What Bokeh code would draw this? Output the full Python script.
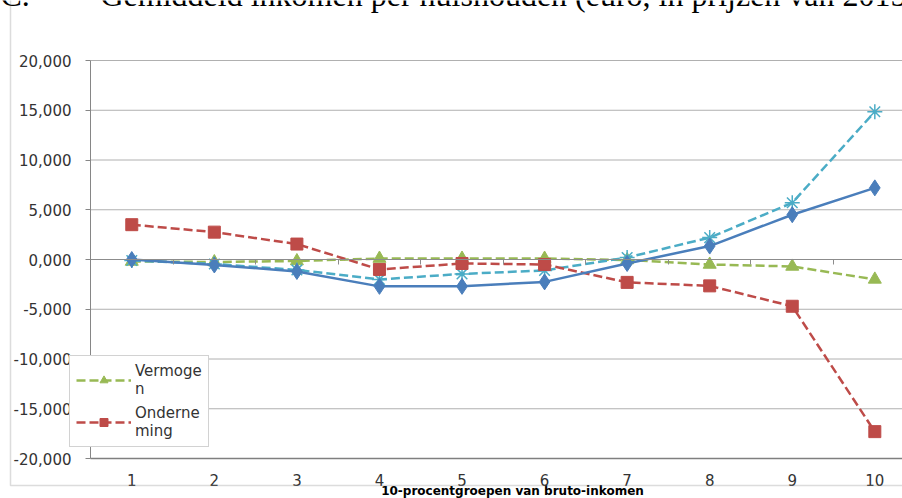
from bokeh.plotting import figure
from bokeh.models import (FixedTicker, Legend, LegendItem, Label, LinearAxis,
                          BoxAnnotation, Range1d)
from bokeh.embed import file_html
from bokeh.resources import INLINE

# 10-procentgroepen van bruto-inkomen
groepen = [1, 2, 3, 4, 5, 6, 7, 8, 9, 10]

# Mutatie gemiddeld inkomen per huishouden (euro)
totaal = [0, -550, -1200, -2700, -2700, -2250, -400, 1350, 4500, 7200]
arbeid = [-100, -450, -1050, -2000, -1450, -1100, 200, 2200, 5700, 14850]
vermogen = [-200, -250, -150, 100, 100, 100, -50, -500, -700, -2000]
onderneming = [3500, 2750, 1550, -1000, -400, -500, -2300, -2650, -4700, -17300]

y_ticks = [-20000, -15000, -10000, -5000, 0, 5000, 10000, 15000, 20000]
y_tick_labels = ["-20,000", "-15,000", "-10,000", "-5,000", "0,000",
                 "5,000", "10,000", "15,000", "20,000"]

titel_nr = "C."
titel = "Gemiddeld inkomen per huishouden (euro, in prijzen van 2015)"
x_titel = "10-procentgroepen van bruto-inkomen"

FONT = "DejaVu Sans"
W, H = 902, 498
# plotgebied in pixels: links 90, boven 60, onder 458, categoriebreedte 82.56
PLOT_L, PLOT_T, PLOT_B = 90, 60, 458
CAT_PX = 82.56

x_start = groepen[0] - 0.5
x_end = groepen[-1] + 0.5
px_per_y = (PLOT_B - PLOT_T) / (y_ticks[-1] - y_ticks[0])

x_range = Range1d(x_start - PLOT_L / CAT_PX, x_start + (W - PLOT_L) / CAT_PX)
y_range = Range1d(y_ticks[0] - (H - PLOT_B) / px_per_y, y_ticks[-1] + PLOT_T / px_per_y)

p = figure(width=W, height=H, output_backend="svg", toolbar_location=None,
           x_range=x_range, y_range=y_range, min_border=0,
           x_axis_type=None, y_axis_type=None)
p.outline_line_color = None
p.background_fill_color = "white"
p.border_fill_color = "white"
p.grid.visible = False

# horizontale rasterlijnen over het plotgebied; de onderste is de donkere onderrand
p.segment(x0=[x_start] * len(y_ticks), y0=y_ticks, x1=[x_end] * len(y_ticks), y1=y_ticks,
          line_color=["#7f7f7f" if t == y_ticks[0] else "#b0b0b0" for t in y_ticks],
          line_width=[1.5 if t == y_ticks[0] else 1 for t in y_ticks])

# y-as
yaxis = LinearAxis(fixed_location=x_start, bounds=(y_ticks[0], y_ticks[-1]),
                   ticker=FixedTicker(ticks=y_ticks),
                   major_label_overrides={t: l for t, l in zip(y_ticks, y_tick_labels)})
yaxis.axis_line_color = "#868686"
yaxis.major_tick_line_color = "#868686"
yaxis.major_tick_out = 5
yaxis.major_tick_in = 0
yaxis.minor_tick_line_color = None
yaxis.major_label_standoff = 14
yaxis.major_label_text_font = FONT
yaxis.major_label_text_font_size = "15px"
yaxis.major_label_text_color = "#333333"
p.add_layout(yaxis, "left")

# groepnummers en astitel onder het plotgebied
xaxis = LinearAxis(fixed_location=y_ticks[0], bounds=(x_start + 0.39, x_end),
                   ticker=FixedTicker(ticks=groepen), axis_label=x_titel)
xaxis.axis_line_color = None
xaxis.major_tick_line_color = None
xaxis.minor_tick_line_color = None
xaxis.major_label_standoff = 9
xaxis.major_label_text_font = FONT
xaxis.major_label_text_font_size = "15px"
xaxis.major_label_text_color = "#333333"
xaxis.axis_label_text_font = FONT
xaxis.axis_label_text_font_size = "12px"
xaxis.axis_label_text_font_style = "bold"
xaxis.axis_label_text_color = "black"
xaxis.axis_label_standoff = -5
p.add_layout(xaxis, "below")

# categorie-as op de nullijn, met streepjes tussen de groepen
grenzen = [g + 0.5 for g in groepen[:-1]]
nulas = LinearAxis(fixed_location=0, bounds=(x_start, x_end),
                   ticker=FixedTicker(ticks=grenzen),
                   major_label_overrides={g: "" for g in grenzen})
nulas.axis_line_color = "#8c8c8c"
nulas.major_tick_line_color = "#8c8c8c"
nulas.major_tick_out = 5
nulas.major_tick_in = 0
nulas.minor_tick_line_color = None
p.add_layout(nulas, "below")

DASH = "9 4"
gl = p.line(groepen, vermogen, line_color="#98B954", line_width=2.5, line_dash=DASH)
gs = p.scatter(groepen, vermogen, marker="triangle", size=13, color="#98B954")
cl = p.line(groepen, arbeid, line_color="#4BACC6", line_width=2.5, line_dash=DASH)
cs = p.scatter(groepen, arbeid, marker="asterisk", size=15, line_color="#4BACC6", line_width=1.5)
rl = p.line(groepen, onderneming, line_color="#BE4B48", line_width=2.5, line_dash=DASH)
rs = p.scatter(groepen, onderneming, marker="square", size=12, color="#BE4B48")
bl = p.line(groepen, totaal, line_color="#4A7EBB", line_width=2.5)
bs = p.scatter(groepen, totaal, marker="diamond", size=16, color="#4A7EBB")

legend = Legend(items=[LegendItem(label="Vermoge\nn", renderers=[gl, gs]),
                       LegendItem(label="Onderne\nming", renderers=[rl, rs])],
                location=(69, H - 447))
legend.border_line_color = "#a6a6a6"
legend.background_fill_color = "white"
legend.background_fill_alpha = 1
legend.glyph_width = 55
legend.glyph_height = 20
legend.label_text_font = FONT
legend.label_text_font_size = "15px"
legend.label_text_color = "#333333"
legend.label_standoff = 4
legend.padding = 6
legend.spacing = 6
legend.margin = 0
p.add_layout(legend)

# kader van het diagram (alleen linker- en bovenrand vallen binnen beeld)
p.add_layout(BoxAnnotation(left=10, right=W + 100, top=13, bottom=H + 100,
                           left_units="screen", right_units="screen",
                           top_units="screen", bottom_units="screen",
                           fill_alpha=0, line_color="#8c8c8c", line_width=1.5))

p.add_layout(Label(x=0, y=H + 6, x_units="screen", y_units="screen", text=titel_nr,
                   text_font="Liberation Serif", text_font_size="32px",
                   text_baseline="alphabetic", text_color="black"))
p.add_layout(Label(x=100, y=H + 6, x_units="screen", y_units="screen", text=titel,
                   text_font="Liberation Serif", text_font_size="32px",
                   text_baseline="alphabetic", text_color="black"))

open("out.html", "w").write(file_html(p, INLINE))
